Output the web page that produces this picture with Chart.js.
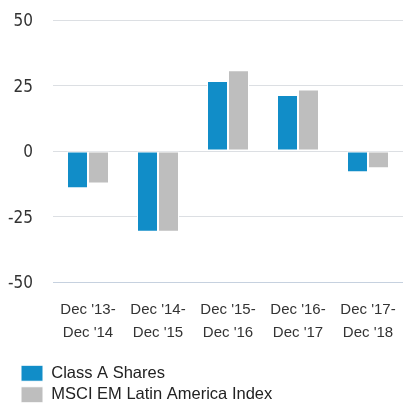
<!DOCTYPE html>
<html>
<head>
<meta charset="utf-8">
<script src="https://cdn.jsdelivr.net/npm/chart.js@4.4.1/dist/chart.umd.min.js"></script>
<style>
  html, body { margin: 0; padding: 0; background: #fff; }
  #wrap { width: 403px; height: 403px; }
</style>
</head>
<body>
<div id="wrap"><canvas id="chart" width="403" height="403"></canvas></div>
<script>
// values
const periods = [
  ["Dec '13-", "Dec '14"],
  ["Dec '14-", "Dec '15"],
  ["Dec '15-", "Dec '16"],
  ["Dec '16-", "Dec '17"],
  ["Dec '17-", "Dec '18"]
];
const classAShares = [-14.2, -30.8, 26.7, 21.4, -8.1];
const msciLatAm = [-12.4, -30.8, 30.8, 23.5, -6.6];
const yTicks = [-50, -25, 0, 25, 50];

const blue = '#118dc8';
const grey = '#bebebe';

// nudge the legend right so it lines up under the tick labels
const legendShift = {
  id: 'legendShift',
  afterLayout(chart) {
    chart.legend.left += 16;
    chart.legend.right += 16;
  },
};

new Chart(document.getElementById('chart'), {
  type: 'bar',
  data: {
    labels: periods,
    datasets: [
      {
        label: 'Class A Shares',
        data: classAShares,
        backgroundColor: blue,
        borderColor: '#ffffff',
        borderWidth: 1,
        borderSkipped: false,
        categoryPercentage: 0.6,
        barPercentage: 1.0,
      },
      {
        label: 'MSCI EM Latin America Index',
        data: msciLatAm,
        backgroundColor: grey,
        borderColor: '#ffffff',
        borderWidth: 1,
        borderSkipped: false,
        categoryPercentage: 0.6,
        barPercentage: 1.0,
      },
    ],
  },
  plugins: [legendShift],
  options: {
    responsive: false,
    animation: false,
    layout: { padding: { top: 20, left: 0, right: 0, bottom: -10 } },
    plugins: {
      tooltip: { enabled: false },
      legend: {
        position: 'bottom',
        align: 'start',
        labels: {
          boxWidth: 22,
          boxHeight: 16,
          padding: 5,
          color: '#222',
          font: { family: '"Liberation Sans", Arial, sans-serif', size: 16.5 },
        },
      },
    },
    scales: {
      x: {
        grid: { display: false },
        border: { display: true, color: '#c6d1df' },
        ticks: {
          color: '#333',
          maxRotation: 0,
          autoSkip: false,
          padding: 9,
          font: { family: '"Liberation Sans", Arial, sans-serif', size: 15, lineHeight: 1.5 },
        },
        afterFit: (scale) => {
          scale.height = 78;
          scale.paddingLeft = 0;
          scale.paddingRight = 0;
        },
      },
      y: {
        min: yTicks[0],
        max: yTicks[yTicks.length - 1],
        afterBuildTicks: (scale) => { scale.ticks = yTicks.map((v) => ({ value: v })); },
        grid: { color: '#dcdfe3', drawTicks: false },
        border: { display: false },
        ticks: {
          color: '#333',
          padding: 20,
          labelOffset: 2,
          font: { family: '"Liberation Sans Narrow", "DejaVu Sans Condensed", sans-serif', size: 17 },
        },
        afterFit: (scale) => {
          scale.width = 53;
          scale.paddingTop = 0;
          scale.paddingBottom = 0;
        },
      },
    },
  },
});
</script>
</body>
</html>
